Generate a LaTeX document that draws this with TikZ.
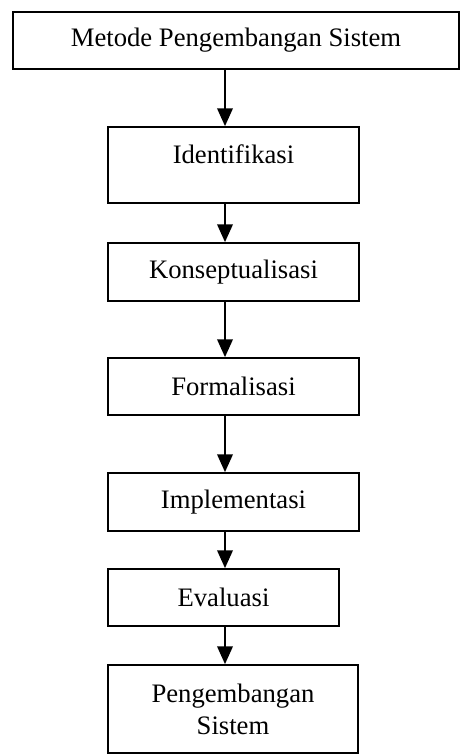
\documentclass[tikz,border=0pt]{standalone}
\usepackage{fontspec}
\setmainfont{Liberation Serif}
\usetikzlibrary{arrows.meta}
\begin{document}
\begin{tikzpicture}[x=0.45pt,y=-0.45pt,
    font=\fontsize{12}{14.4}\selectfont,
    box/.style={draw,line width=0.8pt,rectangle,inner sep=2pt,
      minimum width=112.95pt,minimum height=25.65pt},
    arr/.style={line width=0.8pt,-{Triangle[length=8pt,width=7pt]}}]
      \useasboundingbox (0,0) rectangle (464,755);
      \draw
        (236,40.5) node[box,minimum width=200.7pt] (metode){Metode Pengembangan Sistem}
        (233.5,165) node[box,minimum height=34.2pt,text depth=10pt] (ident){Identifikasi}
        (233.5,272) node[box,minimum height=26.1pt] (konsep){Konseptualisasi}
        (233.5,386.5) node[box] (formal){Formalisasi}
        (233.5,502) node[box,minimum height=26.1pt] (impl){Implementasi}
        (223.5,597.5) node[box,minimum width=103.95pt] (eval){Evaluasi}
        (233,709) node[box,minimum width=112.5pt,minimum height=39.6pt,align=center] (kembang){Pengembangan\\Sistem};
      \coordinate (spine) at (225,0);
      \begin{scope}[arr]
        \draw (metode.south -| spine) to (ident.north -| spine);
        \draw (ident.south -| spine) to (konsep.north -| spine);
        \draw (konsep.south -| spine) to (formal.north -| spine);
        \draw (formal.south -| spine) to (impl.north -| spine);
        \draw (impl.south -| spine) to (eval.north -| spine);
        \draw (eval.south -| spine) to (kembang.north -| spine);
      \end{scope}
    \end{tikzpicture}
\end{document}
